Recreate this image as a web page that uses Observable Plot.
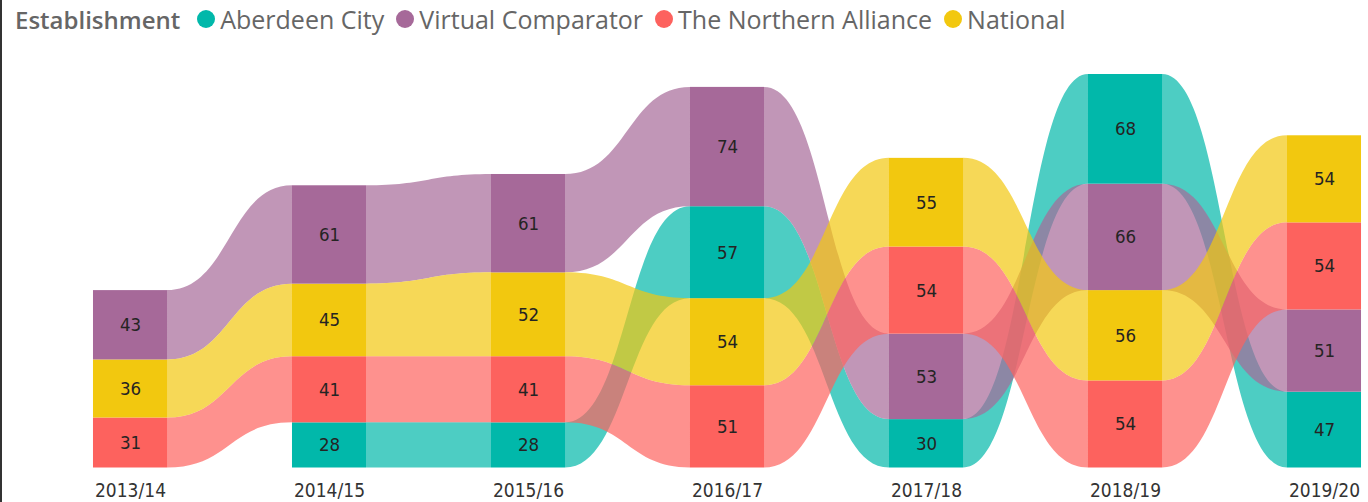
<!DOCTYPE html>
<html>
<head>
<meta charset="utf-8">
<script src="https://cdn.jsdelivr.net/npm/d3@7"></script>
<script src="https://cdn.jsdelivr.net/npm/@observablehq/plot@0.6"></script>
<style>
  html, body { margin: 0; padding: 0; background: #fff; }
  #wrap { position: relative; width: 1368px; height: 502px; overflow: hidden; }
  #frame { position: absolute; left: 0; top: 0; width: 2px; height: 502px; background: #333; }
  #legend { height: 45px; box-sizing: border-box; padding: 0 0 7px 15px; display: flex; align-items: center;
    font-family: "Open Sans", sans-serif; font-size: 25px; color: #666; white-space: nowrap; }
  #legend .title { font-weight: 600; font-size: 24px; margin-right: 17px; }
  #legend .sw { width: 18px; height: 18px; border-radius: 50%; margin-right: 5px; flex: none; }
  #legend .lab { margin-right: 12px; }
  svg { display: block; }
</style>
</head>
<body>
<div id="wrap">
  <div id="frame"></div>
  <div id="legend"></div>
  <div id="chart"></div>
</div>
<script>
const years = ["2013/14", "2014/15", "2015/16", "2016/17", "2017/18", "2018/19", "2019/20"];
const series = ["Aberdeen City", "Virtual Comparator", "The Northern Alliance", "National"];
const colors = ["#01B8AA", "#A66999", "#FD625E", "#F2C80F"];
const aberdeenCity = [null, 28, 28, 57, 30, 68, 47];
const virtualComparator = [43, 61, 61, 74, 53, 66, 51];
const northernAlliance = [31, 41, 41, 51, 54, 54, 54];
const national = [36, 45, 52, 54, 55, 56, 54];
const legendTitle = "Establishment";

const valuesBySeries = [aberdeenCity, virtualComparator, northernAlliance, national];

// Build stacked rows: within each year, smallest at bottom, largest on top
const rows = [];
years.forEach((yr, i) => {
  const items = [];
  series.forEach((s, k) => {
    const v = valuesBySeries[k][i];
    if (v != null) items.push({ series: s, k, i, year: yr, value: v });
  });
  items.sort((a, b) => a.value - b.value || a.k - b.k);
  let acc = 0;
  for (const it of items) { it.y1 = acc; acc += it.value; it.y2 = acc; rows.push(it); }
});
const maxTotal = d3.max(years.map((_, i) => d3.sum(rows.filter(r => r.i === i), r => r.value)));

const hw = 0.186; // half bar width in band units
const lookup = new Map(rows.map(r => [r.series + "|" + r.i, r]));
const ribbons = [];
series.forEach(s => {
  for (let i = 0; i < years.length - 1; i++) {
    const a = lookup.get(s + "|" + i), b = lookup.get(s + "|" + (i + 1));
    if (a && b) {
      const key = s + "|" + i;
      ribbons.push({ key, series: s, x: i + hw, y1: a.y1, y2: a.y2 });
      ribbons.push({ key, series: s, x: i + 1 - hw, y1: b.y1, y2: b.y2 });
    }
  }
});

// Legend
const legend = document.getElementById("legend");
const t = document.createElement("span"); t.className = "title"; t.textContent = legendTitle; legend.appendChild(t);
series.forEach((s, k) => {
  const sw = document.createElement("span"); sw.className = "sw"; sw.style.background = colors[k]; legend.appendChild(sw);
  const lb = document.createElement("span"); lb.className = "lab"; lb.textContent = s; legend.appendChild(lb);
});

const chart = Plot.plot({
  width: 1368,
  height: 457,
  marginLeft: 130,
  marginRight: 44,
  marginTop: 29,
  marginBottom: 34.5,
  style: { fontFamily: "'DejaVu Sans Condensed', sans-serif", background: "#fff" },
  x: { type: "linear", domain: [0, years.length - 1], axis: null },
  y: { domain: [0, maxTotal], axis: null },
  color: { domain: series, range: colors },
  marks: [
    Plot.areaY(ribbons, { x: "x", y1: "y1", y2: "y2", z: "key", fill: "series", fillOpacity: 0.7, curve: "bump-x" }),
    Plot.rect(rows, { x1: d => d.i - hw, x2: d => d.i + hw, y1: "y1", y2: "y2", fill: "series" }),
    Plot.text(rows, { x: "i", y: d => (d.y1 + d.y2) / 2, text: d => String(d.value), fill: "#252423", fontSize: 18.5 }),
    Plot.axisX({ ticks: d3.range(years.length), tickFormat: i => years[i], tickSize: 0, tickPadding: 15, fontSize: 19, color: "#333" })
  ]
});
document.getElementById("chart").appendChild(chart);
</script>
</body>
</html>
